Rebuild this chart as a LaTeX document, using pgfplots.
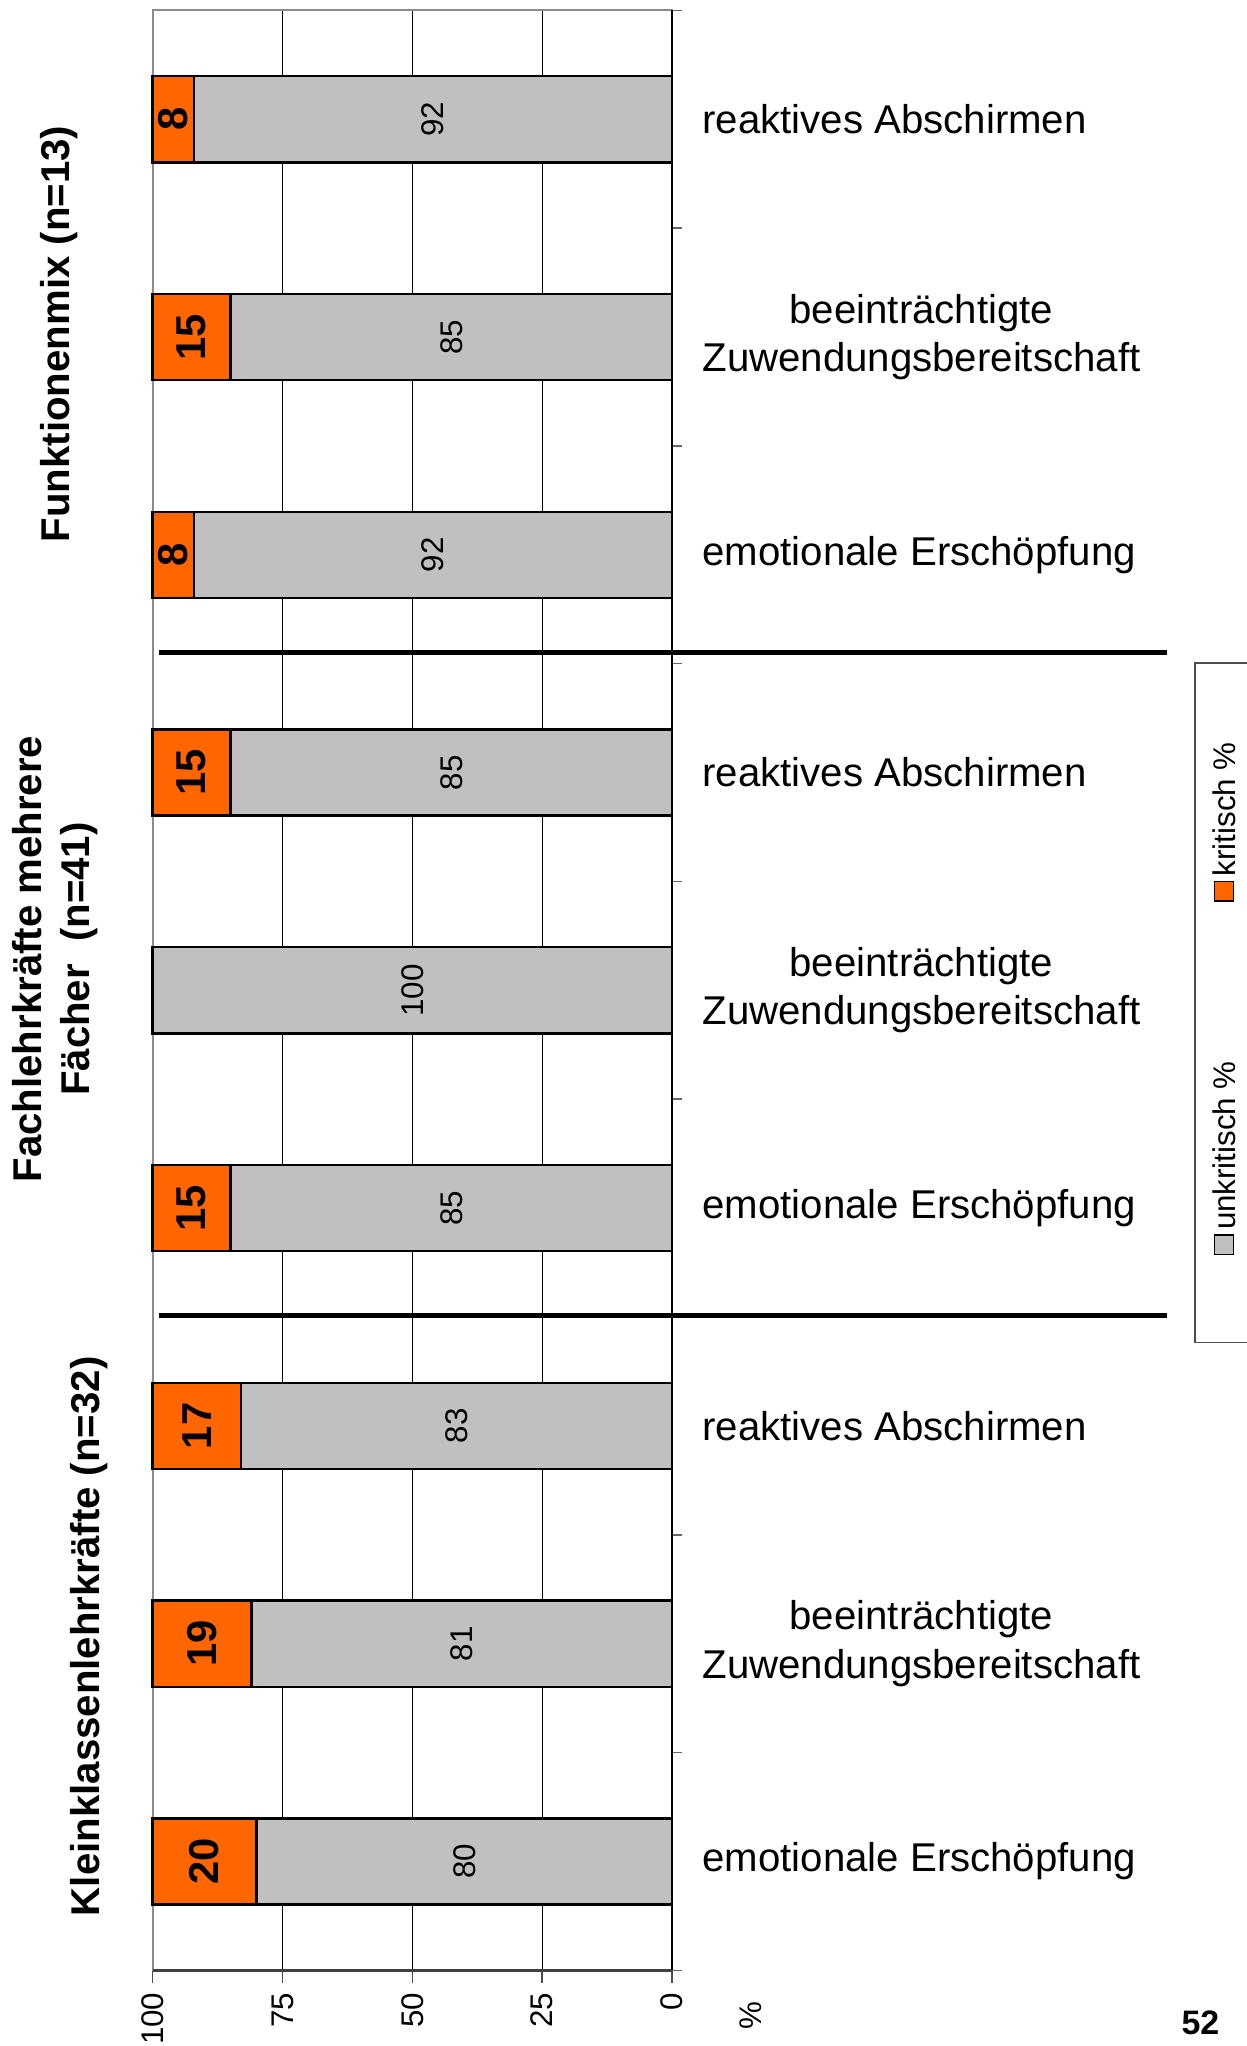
\documentclass[border=0pt]{standalone}
\usepackage{pgfplots}
\pgfplotsset{compat=1.18}
\usepackage{fontspec}
\setmainfont{Liberation Sans}

\definecolor{unkrit}{HTML}{C0C0C0}
\definecolor{krit}{HTML}{FF6600}

\newcommand\catfont{\fontsize{15.4}{18.5}\selectfont}
\newcommand\smallfont{\fontsize{12}{14}\selectfont}

\begin{document}
\begin{tikzpicture}
\begin{axis}[
  at={(158pt,404.5pt)}, anchor=center,
  scale only axis, width=199pt, height=751pt,
  xbar stacked, bar width=33pt,
  x dir=reverse,
  xmin=0, xmax=100, ymin=0.5, ymax=9.5,
  enlargelimits=false, clip=false,
  xtick={0,25,50,75,100},
  xtick pos=left,
  xmajorgrids, grid style={black, line width=0.4pt},
  tick align=outside,
  xtick style={draw=black!70, line width=0.6pt},
  major tick length=5pt,
  xticklabel style={rotate=90, anchor=east, font=\smallfont},
  /pgf/number format/assume math mode=true,
  ytick={1,...,9},
  yticklabels={emotionale Erschöpfung,{beeinträchtigte\\Zuwendungsbereitschaft},reaktives Abschirmen,
               emotionale Erschöpfung,{beeinträchtigte\\Zuwendungsbereitschaft},reaktives Abschirmen,
               emotionale Erschöpfung,{beeinträchtigte\\Zuwendungsbereitschaft},reaktives Abschirmen},
  ytick style={draw=none},
  ytick pos=right, yticklabel pos=right,
  yticklabel style={anchor=west, align=center, font=\catfont, inner sep=0pt, xshift=6.5pt},
  extra y ticks={0.5,1.5,...,9.5},
  extra y tick labels={},
  extra y tick style={ytick style={draw=black!60, line width=0.6pt}, major tick length=4pt},
  axis line style={draw=black!45, line width=0.8pt},
  point meta=explicit symbolic,
  nodes near coords={\ifnum\pgfplotspointmeta>0 \pgfplotspointmeta\fi},
  every node near coord/.append style={anchor=center, rotate=90, inner sep=0pt, text=black},
]
% unkritisch %
\addplot[fill=unkrit, draw=black, line width=0.9pt,
  every node near coord/.append style={font=\smallfont}]
  coordinates {(80,1) [80] (81,2) [81] (83,3) [83]
               (85,4) [85] (100,5) [100] (85,6) [85]
               (92,7) [92] (85,8) [85] (92,9) [92]};
% kritisch %
\addplot[fill=krit, draw=black, line width=0.9pt,
  every node near coord/.append style={font=\fontsize{16}{18}\selectfont\bfseries}]
  coordinates {(20,1) [20] (19,2) [19] (17,3) [17]
               (15,4) [15] (0,5) [0] (15,6) [15]
               (8,7) [8] (15,8) [15] (8,9) [8]};
\draw[black, line width=1pt] (axis cs:0,0.5) -- (axis cs:0,9.5);
\draw[black!75, line width=1pt] (axis cs:0,0.5) -- (axis cs:100,0.5);
\end{axis}

% group separators
\draw[black, line width=2pt] (61pt,534pt) -- (447pt,534pt);
\draw[black, line width=2pt] (61pt,280pt) -- (447pt,280pt);

% legend (rotated, like the rest of the page)
\draw[black!70, line width=0.6pt] (458pt,269.5pt) rectangle (482pt,530pt);
\draw[black, line width=0.6pt, fill=unkrit] (465.3pt,303.3pt) rectangle (472.7pt,310.7pt);
\node[rotate=90, anchor=west, inner sep=0pt, font=\smallfont] at (469pt,312.5pt) {unkritisch \%};
\draw[black, line width=0.6pt, fill=krit] (465.3pt,438.8pt) rectangle (472.7pt,446.2pt);
\node[rotate=90, anchor=west, inner sep=0pt, font=\smallfont] at (469pt,448pt) {kritisch \%};

% group labels
\node[rotate=90, font=\catfont\bfseries] at (34pt,157pt) {Kleinklassenlehrkräfte (n=32)};
\node[rotate=90, font=\catfont\bfseries, align=center] at (21pt,416.5pt) {Fachlehrkräfte mehrere\\Fächer~~(n=41)};
\node[rotate=90, font=\catfont\bfseries] at (22.5pt,656pt) {Funktionenmix (n=13)};

\node[rotate=90, font=\smallfont] at (287.5pt,11.5pt) {\%};
\node[font=\fontsize{13}{15}\selectfont\bfseries] at (460pt,9pt) {52};

\pgfresetboundingbox
\useasboundingbox (0,0) rectangle (477.5pt,784pt);
\end{tikzpicture}
\end{document}
